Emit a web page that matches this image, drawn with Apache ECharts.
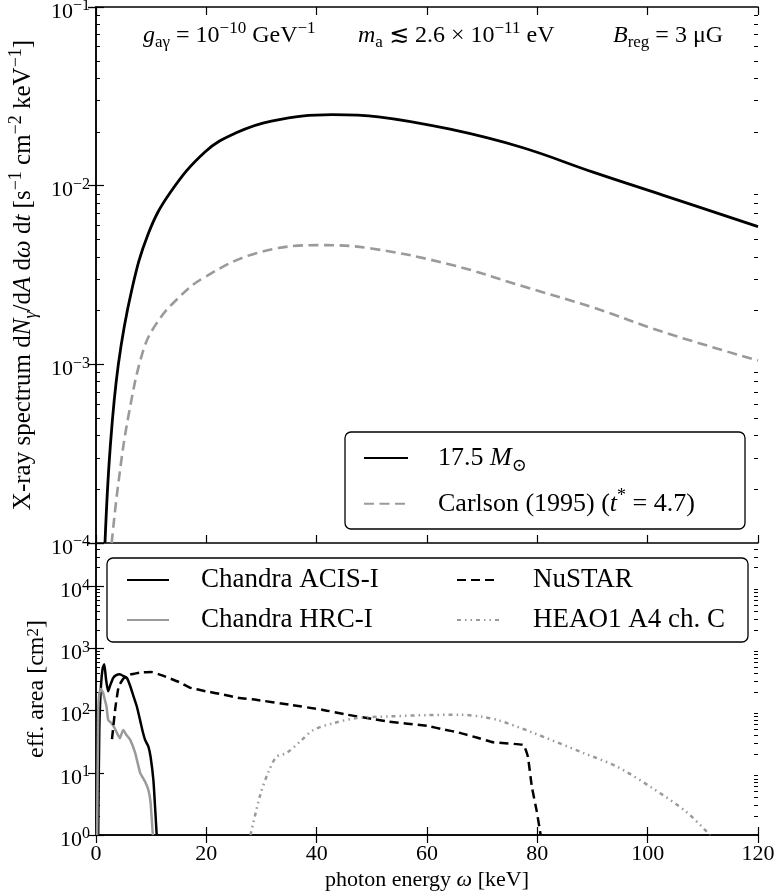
<!DOCTYPE html>
<html><head><meta charset="utf-8">
<script src="https://cdn.jsdelivr.net/npm/echarts@6/dist/echarts.min.js"></script>
<style>html,body{margin:0;padding:0;background:#fff}#c{width:778px;height:893px}</style>
</head><body><div id="c"></div>
<script>
const FONT = "'Liberation Serif','DejaVu Serif','DejaVu Sans',serif";
const GRAY = '#9a9a9a';

// ---- data ----
const xTicks = [0, 20, 40, 60, 80, 100, 120];
const spectrumRange = [1e-4, 1e-1];
const areaRange = [1, 5e4];

const mass175Omega = [1.63, 2.54, 4.05, 6.47, 9.49, 13.4, 19.8, 25.3, 31.8, 42.8, 51.2, 64.2, 77.1, 90.1, 103, 120];
const mass175Flux  = [1e-4, 3.3e-4, 1.0e-3, 2.6e-3, 5.4e-3, 9.1e-3, 1.55e-2, 1.97e-2, 2.3e-2, 2.5e-2, 2.43e-2, 2.07e-2, 1.64e-2, 1.19e-2, 8.8e-3, 5.9e-3];

const carlsonOmega = [2.84, 4.05, 5.86, 8.58, 11.0, 14.6, 19.5, 29.2, 40.8, 49.9, 64.2, 77.1, 90.1, 103, 120];
const carlsonFlux  = [1e-4, 2.16e-4, 5.1e-4, 1.2e-3, 1.7e-3, 2.3e-3, 3.05e-3, 4.2e-3, 4.65e-3, 4.45e-3, 3.62e-3, 2.75e-3, 2.08e-3, 1.51e-3, 1.05e-3];

const acisOmega = [0.4, 0.6, 0.9, 1.2, 1.5, 1.8, 2.2, 2.6, 3.1, 3.6, 4.3, 5.0, 5.6, 6.2, 6.8, 7.4, 8.0, 8.5, 8.9, 9.5, 9.9, 10.4, 10.7, 11.0];
const acisArea  = [1, 50, 250, 480, 560, 330, 205, 260, 336, 370, 385, 360, 336, 250, 170, 117, 70, 45, 34, 26.5, 18, 7.7, 2.9, 1];

const hrcOmega = [0.2, 0.4, 0.6, 0.9, 1.3, 1.6, 1.9, 2.2, 2.8, 3.4, 3.9, 4.35, 4.7, 4.95, 5.5, 6.2, 7.1, 8.0, 8.9, 9.5, 9.9, 10.3];
const hrcArea  = [1, 100, 190, 225, 193, 150, 117, 71, 63, 52, 42, 36, 44, 49, 41, 34, 21, 10, 7.2, 5.3, 3.3, 1];

const nustarOmega = [2.9, 3.5, 4.1, 5.0, 6.2, 8.0, 10.0, 12.0, 15.0, 17.0, 20.0, 23.0, 26.0, 29.0, 35.0, 41.0, 45.0, 50.0, 53.0, 60.0, 63.0, 66.0, 69.0, 72.0, 77.5, 78.3, 79.0, 79.9, 80.6];
const nustarArea  = [35, 110, 245, 330, 380, 410, 420, 370, 290, 235, 205, 182, 160, 150, 125, 104, 88, 74, 67, 57, 50, 44, 37, 31, 28, 18, 6, 2.4, 1];

const heaoOmega = [28.0, 29.8, 31.2, 32.7, 34.6, 37.0, 39.4, 43.0, 47.2, 53.3, 60.0, 66.0, 70.0, 73.0, 79.0, 88.3, 94.5, 100.7, 106.9, 111.3];
const heaoArea  = [1, 4.5, 10, 18, 21, 32, 49, 63, 76, 81, 85, 86, 80, 70, 45, 21, 12.5, 5.8, 2.4, 1];

// ---- helpers ----
const zip = (xs, ys) => xs.map((x, i) => [x, ys[i]]);
function minorLogTicks(lo, hi) { // positions in log10 space
  const out = [];
  for (let d = Math.floor(lo); d < Math.ceil(hi); d++)
    for (let m = 2; m <= 9; m++) { const v = d + Math.log10(m); if (v > lo && v < hi) out.push(v); }
  return out;
}
function logLabel(v) {
  const l = Math.log10(v), e = Math.round(l);
  if (Math.abs(l - e) > 1e-6) return '';
  return '{b|10}{sup|' + (e < 0 ? '\u2212' + (-e) : e) + '}';
}
const tickLabelRich = {
  b: { fontFamily: FONT, fontSize: 22, lineHeight: 28, color: '#000', verticalAlign: 'middle' },
  sup: { fontFamily: FONT, fontSize: 16, lineHeight: 14, color: '#000', verticalAlign: 'top' }
};
function textRich(fs) {
  return {
    n: { fontFamily: FONT, fontSize: fs, lineHeight: fs * 1.3, color: '#000' },
    i: { fontFamily: FONT, fontSize: fs, lineHeight: fs * 1.3, fontStyle: 'italic', color: '#000' },
    sup: { fontFamily: FONT, fontSize: Math.round(fs * 0.7), lineHeight: Math.round(fs * 0.7), verticalAlign: 'top', color: '#000' },
    sub: { fontFamily: FONT, fontSize: Math.round(fs * 0.7), lineHeight: Math.round(fs * 0.7), verticalAlign: 'bottom', color: '#000' },
    subi: { fontFamily: FONT, fontSize: Math.round(fs * 0.7), lineHeight: Math.round(fs * 0.7), verticalAlign: 'bottom', fontStyle: 'italic', color: '#000' }
  };
}
const LINE = { show: true, lineStyle: { color: '#000', width: 1.5 } };

const G0 = { left: 96, right: 20, top: 7, height: 536, outerBoundsMode: 'none' };
const G1 = { left: 96, right: 20, top: 543, height: 292, outerBoundsMode: 'none' };

function xAx(grid, pos, labels) {
  const a = {
    type: 'value', gridIndex: grid, position: pos, min: 0, max: 120, interval: 20,
    axisLine: LINE, splitLine: { show: false },
    axisTick: { show: true, inside: true, length: 8, lineStyle: { color: '#000', width: 1.2 } },
    axisLabel: { show: labels, margin: 8, fontFamily: FONT, fontSize: 22, color: '#000' }
  };
  if (labels) {
    a.name = 'photon energy {i|ω} [keV]';
    a.nameLocation = 'middle';
    a.nameGap = 31;
    a.nameTextStyle = { fontFamily: FONT, fontSize: 22, color: '#000', rich: textRich(22) };
  }
  return a;
}
function yLog(grid, pos, range, labels, name, nameGap, nameSize) {
  const a = {
    type: 'log', gridIndex: grid, position: pos, min: range[0], max: range[1], logBase: 10,
    axisLine: LINE, splitLine: { show: false }, minorTick: { show: false },
    axisTick: { show: true, inside: true, length: 8, lineStyle: { color: '#000', width: 1.2 } },
    axisLabel: { show: labels, margin: 6, formatter: logLabel, rich: tickLabelRich, padding: [10, 0, 0, 0],
                 fontFamily: FONT, fontSize: 22, color: '#000', showMaxLabel: true }
  };
  if (name) {
    a.name = name; a.nameLocation = 'middle'; a.nameRotate = 90; a.nameGap = nameGap;
    a.nameTextStyle = { fontFamily: FONT, fontSize: nameSize, color: '#000', rich: textRich(nameSize) };
  }
  return a;
}
function yMinor(grid, pos, range) {
  const lo = Math.log10(range[0]), hi = Math.log10(range[1]);
  return {
    type: 'value', gridIndex: grid, position: pos, min: lo, max: hi,
    axisLine: { show: false }, splitLine: { show: false }, axisLabel: { show: false },
    axisTick: { show: true, inside: true, length: 4, customValues: minorLogTicks(lo, hi), lineStyle: { color: '#000', width: 1 } }
  };
}
const annStyle = { fontFamily: FONT, fontSize: 24, fontWeight: 'normal', color: '#000', lineHeight: 30, rich: textRich(24) };
const legendCommon = { orient: 'vertical', padding: 0, selectedMode: false, itemHeight: 14,
  itemStyle: { opacity: 0, borderWidth: 0 } };

const option = {
  backgroundColor: '#fff',
  animation: false,
  grid: [G0, G1],
  title: [
    { text: '{i|g}{sub|aγ} = 10{sup|\u221210} GeV{sup|\u22121}', left: 143, top: 20, padding: 0, textStyle: annStyle },
    { text: '{i|m}{sub|a} \u2272 2.6 × 10{sup|\u221211} eV', left: 358, top: 20, padding: 0, textStyle: annStyle },
    { text: '{i|B}{sub|reg} = 3 μG', left: 613, top: 20, padding: 0, textStyle: annStyle }
  ],
  xAxis: [xAx(0, 'bottom', false), xAx(0, 'top', false), xAx(1, 'bottom', true), xAx(1, 'top', false)],
  yAxis: [
    yLog(0, 'left', spectrumRange, true,
      'X-ray spectrum d{i|N}{subi|γ}/d{i|A} d{i|ω} d{i|t} [s{sup|\u22121} cm{sup|\u22122} keV{sup|\u22121}]', 56, 25),
    yLog(0, 'right', spectrumRange, false),
    yMinor(0, 'left', spectrumRange),
    yMinor(0, 'right', spectrumRange),
    yLog(1, 'left', areaRange, true, 'eff. area [cm{sup|2}]', 40, 24),
    yLog(1, 'right', areaRange, false),
    yMinor(1, 'left', areaRange),
    yMinor(1, 'right', areaRange)
  ],
  legend: [
    Object.assign({}, legendCommon, { data: ['m175', 'carlson'], left: 363, top: 441, itemGap: 12, itemWidth: 44,
      formatter: n => n === 'm175' ? '17.5 {i|M}{sub|⊙}' : 'Carlson (1995) ({i|t}{sup|*} = 4.7)',
      textStyle: { fontFamily: FONT, fontSize: 26, color: '#000', lineHeight: 30, padding: [0, 0, 0, 25], rich: textRich(26) } }),
    Object.assign({}, legendCommon, { data: ['acis', 'hrc'], left: 126, top: 565, itemGap: 10, itemWidth: 42,
      formatter: n => n === 'acis' ? 'Chandra ACIS-I' : 'Chandra HRC-I',
      textStyle: { fontFamily: FONT, fontSize: 27, color: '#000', lineHeight: 30, padding: [0, 0, 0, 27] } }),
    Object.assign({}, legendCommon, { data: ['nustar', 'heao'], left: 456, top: 565, itemGap: 10, itemWidth: 42,
      formatter: n => n === 'nustar' ? 'NuSTAR' : 'HEAO1 A4 ch. C',
      textStyle: { fontFamily: FONT, fontSize: 27, color: '#000', lineHeight: 30, padding: [0, 0, 0, 29] } })
  ],
  graphic: [
    { type: 'rect', shape: { x: 345, y: 432, width: 400, height: 97, r: 6 }, z: 3,
      style: { fill: '#fff', stroke: '#000', lineWidth: 1.3 } },
    { type: 'rect', shape: { x: 107, y: 558, width: 641, height: 84, r: 6 }, z: 3,
      style: { fill: '#fff', stroke: '#000', lineWidth: 1.3 } }
  ],
  series: [
    { name: 'm175', type: 'line', xAxisIndex: 0, yAxisIndex: 0, data: zip(mass175Omega, mass175Flux),
      symbol: 'none', smooth: 0.4, lineStyle: { color: '#000', width: 2.8 }, itemStyle: { color: '#000' } },
    { name: 'carlson', type: 'line', xAxisIndex: 0, yAxisIndex: 0, data: zip(carlsonOmega, carlsonFlux),
      symbol: 'none', smooth: 0.4, lineStyle: { color: GRAY, width: 2.6, type: [10, 5.5] }, itemStyle: { color: GRAY } },
    { name: 'acis', type: 'line', xAxisIndex: 2, yAxisIndex: 4, data: zip(acisOmega, acisArea),
      symbol: 'none', smooth: 0.2, lineStyle: { color: '#000', width: 2.5 }, itemStyle: { color: '#000' } },
    { name: 'hrc', type: 'line', xAxisIndex: 2, yAxisIndex: 4, data: zip(hrcOmega, hrcArea),
      symbol: 'none', smooth: 0.1, lineStyle: { color: GRAY, width: 2.5 }, itemStyle: { color: GRAY } },
    { name: 'nustar', type: 'line', xAxisIndex: 2, yAxisIndex: 4, data: zip(nustarOmega, nustarArea),
      symbol: 'none', smooth: 0.1, lineStyle: { color: '#000', width: 2.5, type: [9, 5] }, itemStyle: { color: '#000' } },
    { name: 'heao', type: 'line', xAxisIndex: 2, yAxisIndex: 4, data: zip(heaoOmega, heaoArea),
      symbol: 'none', smooth: 0.3, lineStyle: { color: GRAY, width: 2.5, type: [4, 4, 1.5, 4, 1.5, 4] }, itemStyle: { color: GRAY } }
  ]
};
const chart = echarts.init(document.getElementById('c'), null, { renderer: 'canvas' });
chart.setOption(option);
</script></body></html>
